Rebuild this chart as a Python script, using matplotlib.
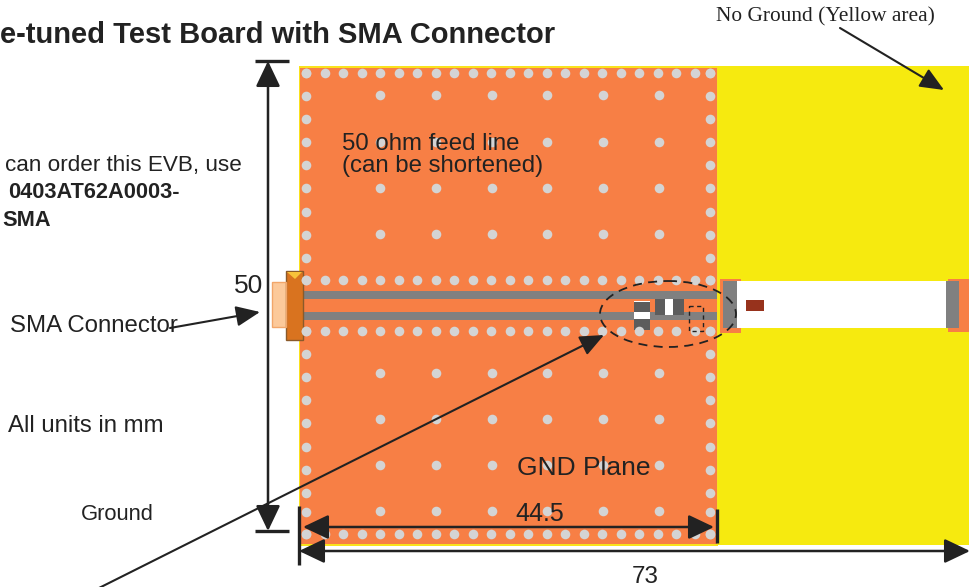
import matplotlib
matplotlib.use("Agg")
import matplotlib.pyplot as plt
from matplotlib.patches import Rectangle, Ellipse, Polygon, FancyArrowPatch
import numpy as np

W, H = 970, 587
ORANGE = "#f77f45"
YELLOW = "#f6ea0f"
GREY = "#808080"
DARK = "#5c5c5c"
DOT = "#d4d4d4"
INK = "#222222"

# region rectangles: x0, y0, x1, y1, colour
regions = [
    (717, 66, 970, 545, YELLOW),
    (299, 66, 718, 546, "#f9e21c"),
    (300, 68, 717, 544, ORANGE),
    (720, 279, 741, 333, ORANGE),
    (948, 279, 970, 332, ORANGE),
    (737, 281, 946, 328, "white"),
    (723, 281, 737, 328, GREY),
    (946, 281, 959, 328, GREY),
    (746, 300, 764, 311, "#97321c"),
    (302, 291, 717, 299, GREY),
    (302, 312, 717, 320, GREY),
    (634, 301, 650, 330, DARK),
    (634, 312, 650, 319, "white"),
    (634, 301, 650, 302, "white"),
    (655, 299, 684, 315, DARK),
    (665, 299, 673, 315, "white"),
    (272, 282, 286, 327, "#fcc99a"),
    (286, 271, 303, 340, "#d9731f"),
]

# via grid positions
edge_cols = [306, 710]
edge_rows = [73, 96, 119, 142, 165, 188, 212, 235, 258, 280,
             331, 354, 377, 400, 423, 447, 470, 493, 512, 534]
stitch_rows = [73, 280, 331, 534]
stitch_cols = [306, 325, 343, 362, 380, 399, 417, 436, 454, 473, 491, 510, 528,
               547, 565, 584, 602, 621, 639, 658, 676, 695, 710]
inner_cols = [380, 436, 492, 547, 603, 659]
inner_rows = [95, 142, 188, 234, 373, 419, 465, 511]

# dimension arrows: start, end
double_arrows = [
    ((268, 61), (268, 531)),
    ((303, 527), (714, 527)),
    ((299, 551), (970, 551)),
]
single_arrows = [
    ((840, 28), (944, 90)),
    ((170, 328), (260, 312)),
    ((95, 590), (604, 335)),
]
# tick bars: x0, y0, x1, y1
bars = [
    (255, 61, 289, 61),
    (255, 531, 289, 531),
    (299, 506, 299, 565),
    (717, 509, 717, 543),
]

fig = plt.figure(figsize=(W / 100, H / 100), dpi=100)
ax = fig.add_axes([0, 0, 1, 1])
ax.set_xlim(0, W)
ax.set_ylim(H, 0)
ax.axis("off")

for x0, y0, x1, y1, c in regions:
    ax.add_patch(Rectangle((x0, y0), x1 - x0, y1 - y0, fc=c, ec="none", zorder=1))

ax.add_patch(Rectangle((286, 271), 17, 69, fc="none", ec="#8a5a2a", lw=1, zorder=2))
ax.add_patch(Rectangle((272, 282), 14, 45, fc="none", ec="#f2a66a", lw=1, zorder=2))
ax.add_patch(Polygon([(287, 272), (302, 272), (295, 279)], fc="#f8c23a", ec="none", zorder=3))

vx = [x for x in edge_cols for _ in edge_rows] + [x for _ in stitch_rows for x in stitch_cols]
vy = [y for _ in edge_cols for y in edge_rows] + [y for y in stitch_rows for _ in stitch_cols]
ix = [x for x in inner_cols for _ in inner_rows]
iy = [y for _ in inner_cols for y in inner_rows]
ax.scatter(vx + ix, vy + iy, s=48, c=DOT, linewidths=0, zorder=2)

ax.add_patch(Ellipse((668, 314), 136, 66, fc="none", ec=INK, lw=1.3, ls=(0, (5, 3.5)), zorder=4))
ax.add_patch(Rectangle((689, 306), 14, 25, fc="none", ec=INK, lw=1, ls=(0, (3, 2.5)), zorder=4))

for s, e in double_arrows:
    ax.add_patch(FancyArrowPatch(s, e, arrowstyle="<|-|>,head_length=1.05,head_width=0.5", mutation_scale=15,
                                 lw=1.8, color=INK, shrinkA=0, shrinkB=0, zorder=5, clip_on=True))
for s, e in single_arrows:
    ax.add_patch(FancyArrowPatch(s, e, arrowstyle="-|>,head_length=1.05,head_width=0.45", mutation_scale=14,
                                 lw=1.5, color=INK, shrinkA=0, shrinkB=0, zorder=5))
for x0, y0, x1, y1 in bars:
    ax.plot([x0, x1], [y0, y1], color=INK, lw=2.4, solid_capstyle="butt", zorder=5)

sans = "Liberation Sans"
def t(x, y, s, size, ha="left", **kw):
    ax.text(x, y, s, fontsize=size, ha=ha, va="center", family=kw.pop("family", sans), color=INK, zorder=6, **kw)

t(555, 35, "e-tuned Test Board with SMA Connector", 21, ha="right", weight="bold")
t(716, 17, "No Ground (Yellow area)", 15.4, family="Liberation Serif")
t(342, 144, "50 ohm feed line", 17.3)
t(342, 166, "(can be shortened)", 17.3)
t(5, 166, "can order this EVB, use", 16.2)
t(8, 193, "0403AT62A0003-", 15.7, weight="bold")
t(2, 221, "SMA", 15.7, weight="bold")
t(234, 286, "50", 19)
t(10, 326, "SMA Connector", 17.3)
t(8, 426, "All units in mm", 17.3)
t(81, 515, "Ground", 15.8)
t(517, 468, "GND Plane", 19)
t(515, 514, "44.5", 18)
t(632, 577, "73", 17.5)

fig.savefig("out.png", dpi=100)
